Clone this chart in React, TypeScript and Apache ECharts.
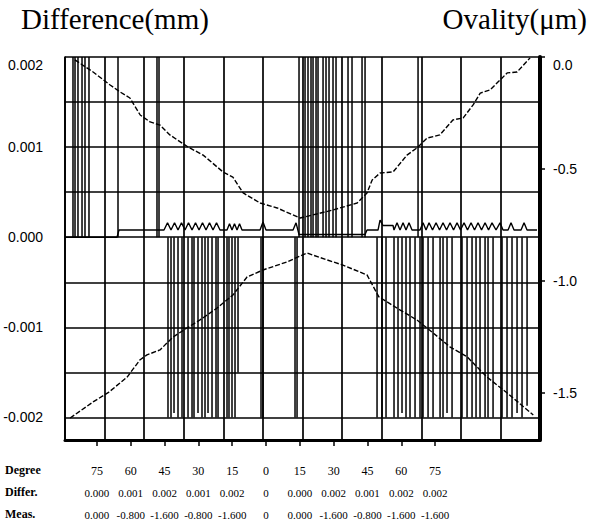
import React, { useEffect, useRef } from 'react';
import * as echarts from 'echarts';

// Table under the plot
const degreeLabels = ['75', '60', '45', '30', '15', '0', '15', '30', '45', '60', '75'];
const differLabels = ['0.000', '0.001', '0.002', '0.001', '0.002', '0', '0.000', '0.002', '0.001', '0.002', '0.002'];
const measLabels = ['0.000', '-0.800', '-1.600', '-0.800', '-1.600', '0', '0.000', '-1.600', '-0.800', '-1.600', '-1.600'];
const rowNames = ['Degree', 'Differ.', 'Meas.'];

// Ovality curves (right axis, µm); x in grid columns 0..12
const ovalityA = [
  [0.25, -0.013], [0.71, -0.067], [1.14, -0.125], [1.39, -0.156], [1.64, -0.183], [1.9, -0.259],
  [2.15, -0.29], [2.4, -0.304], [2.65, -0.348], [3.11, -0.402], [3.49, -0.438], [3.99, -0.513],
  [4.24, -0.536], [4.5, -0.607], [4.93, -0.652], [5.36, -0.674], [5.94, -0.719], [6.77, -0.683],
  [7.38, -0.652], [7.63, -0.607], [7.76, -0.549], [7.96, -0.518], [8.29, -0.513], [8.64, -0.438],
  [8.89, -0.406], [9.15, -0.362], [9.47, -0.348], [9.8, -0.281], [10.06, -0.272], [10.31, -0.214],
  [10.49, -0.161], [10.74, -0.147], [10.99, -0.103], [11.17, -0.071], [11.42, -0.067], [11.75, -0.004],
];
const ovalityB = [
  [0.13, -1.612], [0.71, -1.54], [1.11, -1.496], [1.57, -1.429], [1.89, -1.353], [2.07, -1.33],
  [2.4, -1.308], [2.73, -1.25], [3.08, -1.21], [3.41, -1.174], [3.84, -1.121], [4.24, -1.063],
  [4.6, -0.982], [5.0, -0.951], [5.61, -0.915], [6.11, -0.875], [6.62, -0.906], [7.02, -0.929],
  [7.63, -0.973], [7.93, -1.071], [8.46, -1.129], [8.89, -1.174], [9.3, -1.232], [9.73, -1.295],
  [10.16, -1.339], [10.66, -1.429], [11.17, -1.5], [11.83, -1.598],
];

// Difference trace (left axis, mm)
const diffTrace = [
  [0, 0], [1.314, 0], [1.364, 0.00008], [2.501, 0.00008],
  [2.59, 0.00016], [2.678, 0.00008], [2.767, 0.00016], [2.855, 0.00008], [2.943, 0.00016], [3.032, 0.00008],
  [3.12, 0.00016], [3.209, 0.00008], [3.297, 0.00016], [3.386, 0.00008], [3.474, 0.00016], [3.562, 0.00008],
  [3.651, 0.00016], [3.739, 0.00008], [3.828, 0.00016], [3.916, 0.00008],
  [4.093, 0.00008], [4.156, 0.00015], [4.219, 0.00008], [4.282, 0.00015], [4.346, 0.00008], [4.409, 0.00015], [4.472, 0.00008],
  [4.927, 0.00008], [5.002, 0.00017], [5.078, 0.00008],
  [5.761, 0.00008], [5.837, 0.00016], [5.912, 0.00003],
  [7.58, 0.00003], [7.63, 0.00008],
  [7.908, 0.00008], [7.959, 0.00019], [8.034, 0.00013], [8.287, 0.00013],
  [8.312, 0.00008], [8.388, 0.00016], [8.464, 0.00008], [8.54, 0.00016], [8.615, 0.00008], [8.691, 0.00016], [8.767, 0.00008],
  [8.969, 0.00008], [9.045, 0.00016], [9.121, 0.00008], [9.197, 0.00016], [9.285, 0.00008], [9.374, 0.00016],
  [9.462, 0.00008], [9.55, 0.00016], [9.639, 0.00008], [9.727, 0.00016], [9.816, 0.00008], [9.904, 0.00016],
  [9.992, 0.00008], [10.081, 0.00016], [10.169, 0.00008], [10.258, 0.00016], [10.346, 0.00008], [10.435, 0.00016],
  [10.523, 0.00008], [10.612, 0.00016], [10.7, 0.00008], [10.788, 0.00016], [10.889, 0.00008], [10.99, 0.00016],
  [11.066, 0.00008],
  [11.193, 0.00008], [11.268, 0.00016], [11.344, 0.00008],
  [11.521, 0.00008], [11.597, 0.00016], [11.673, 0.00008],
  [11.925, 0.00008],
];

// Difference spikes (left axis, mm)
const diffUpSpikes = [
  [0.202, 0.002], [0.253, 0.002], [0.328, 0.002], [0.43, 0.002], [0.505, 0.002], [0.606, 0.002],
  [1.339, 0.002], [2.324, 0.002], [2.375, 0.002],
  [5.912, 0.002], [6.064, 0.002], [6.139, 0.002], [6.215, 0.002], [6.266, 0.002], [6.342, 0.002],
  [6.392, 0.002], [6.519, 0.002], [6.594, 0.002], [6.67, 0.002], [6.771, 0.002], [6.847, 0.002],
  [7.15, 0.002], [7.251, 0.002], [7.504, 0.002], [7.58, 0.002], [8.919, 0.002],
];
const diffDownSpikes = [
  [2.602, -0.002], [2.678, -0.002], [2.754, -0.00195], [2.855, -0.002], [2.956, -0.002], [3.108, -0.002],
  [3.209, -0.002], [3.259, -0.002], [3.36, -0.00195], [3.461, -0.002], [3.537, -0.002], [3.613, -0.00195],
  [3.714, -0.002], [3.815, -0.002], [3.866, -0.002], [4.093, -0.002], [4.143, -0.002], [4.219, -0.002],
  [4.295, -0.002], [4.371, -0.0015], [4.952, -0.002], [5.002, -0.002], [5.811, -0.002], [5.862, -0.002],
  [7.883, -0.002], [8.009, -0.002], [8.11, -0.002], [8.312, -0.002], [8.413, -0.002], [8.514, -0.00195],
  [8.615, -0.002], [8.716, -0.002], [8.843, -0.002], [8.969, -0.002], [9.045, -0.002], [9.172, -0.002],
  [9.298, -0.002], [9.475, -0.002], [9.55, -0.002], [9.651, -0.00195], [9.778, -0.002], [10.03, -0.002],
  [10.157, -0.002], [10.283, -0.002], [10.384, -0.002], [10.485, -0.002], [10.612, -0.002], [10.687, -0.002],
  [10.814, -0.002], [11.041, -0.002], [11.167, -0.002], [11.293, -0.002], [11.42, -0.00195], [11.546, -0.002],
  [11.673, -0.00187],
];

const SANS = '"Liberation Sans", Arial, sans-serif';
const SERIF = '"Liberation Serif", "Times New Roman", serif';

export default function App() {
  const ref = useRef<HTMLDivElement>(null);

  useEffect(() => {
    if (!ref.current) return;
    const chart = echarts.init(ref.current, undefined, { renderer: 'svg' });

    const rowY = [471, 493, 515];
    const tableAxis = (data: string[], offset: number, showTick: boolean, size: number) => ({
      type: 'category',
      gridIndex: 1,
      position: 'bottom',
      offset,
      data,
      boundaryGap: true,
      axisLine: { show: false },
      axisTick: { show: showTick, alignWithLabel: true, length: 5, lineStyle: { color: '#000', width: 1.5 } },
      axisLabel: {
        interval: 0,
        margin: 30,
        verticalAlign: 'middle',
        color: '#000',
        fontFamily: SERIF,
        fontSize: size,
      },
      splitLine: { show: false },
    });

    chart.setOption({
      animation: false,
      backgroundColor: '#fff',
      title: [
        {
          text: 'Difference(mm)',
          left: 21,
          top: 4,
          padding: 0,
          textStyle: { fontFamily: SERIF, fontSize: 29, fontWeight: 'normal', color: '#000' },
        },
        {
          text: 'Ovality(μm)',
          right: 10,
          top: 4,
          padding: 0,
          textStyle: { fontFamily: SERIF, fontSize: 29, fontWeight: 'normal', color: '#000' },
        },
      ],
      graphic: rowNames.map((name, i) => ({
        type: 'text',
        left: 5,
        top: rowY[i] - 7,
        style: { text: name, font: `bold 12px ${SERIF}`, fill: '#000' },
      })),
      grid: [
        { left: 65, right: 57, top: 57, bottom: 87, show: false },
        { left: 80, width: 372, top: 436, height: 5, show: false },
      ],
      xAxis: [
        {
          type: 'value',
          gridIndex: 0,
          min: 0,
          max: 12,
          interval: 1,
          axisLine: { show: true, onZero: false, lineStyle: { color: '#000', width: 3 } },
          axisTick: { show: false },
          axisLabel: { show: false },
          splitLine: { show: true, lineStyle: { color: '#000', width: 1.7 } },
        },
        tableAxis(degreeLabels, 0, true, 12),
        tableAxis(differLabels, 22, false, 11),
        tableAxis(measLabels, 44, false, 11),
      ],
      yAxis: [
        {
          type: 'value',
          gridIndex: 0,
          position: 'left',
          min: -0.00225,
          max: 0.002,
          minInterval: 0.0005,
          maxInterval: 0.0005,
          axisLine: { show: true, lineStyle: { color: '#000', width: 1.7 } },
          axisTick: { show: false },
          splitLine: { show: true, lineStyle: { color: '#000', width: 1.7 } },
          axisLabel: {
            showMinLabel: false,
            margin: 22,
            color: '#000',
            fontFamily: SANS,
            fontSize: 14,
            formatter: (v: number) => {
              const k = Math.round(v * 10000);
              if (k % 10 !== 0) return '';
              const s = v.toFixed(3);
              return k === 20 ? `{t|${s}}` : s;
            },
            rich: { t: { padding: [16, 0, 0, 0], fontFamily: SANS, fontSize: 14, color: '#000' } },
          },
        },
        {
          type: 'value',
          gridIndex: 0,
          position: 'right',
          min: -1.71,
          max: 0,
          minInterval: 0.5,
          maxInterval: 0.5,
          axisLine: { show: true, lineStyle: { color: '#000', width: 4 } },
          axisTick: { show: true, length: 5, lineStyle: { color: '#000', width: 1.5 } },
          splitLine: { show: false },
          axisLabel: {
            showMinLabel: false,
            margin: 13,
            color: '#000',
            fontFamily: SANS,
            fontSize: 14,
            formatter: (v: number) => {
              const s = (Math.abs(v) < 1e-9 ? 0 : v).toFixed(1);
              return Math.abs(v) < 1e-9 ? `{t|${s}}` : s;
            },
            rich: { t: { padding: [16, 0, 0, 0], fontFamily: SANS, fontSize: 14, color: '#000' } },
          },
        },
        { type: 'value', gridIndex: 1, show: false },
      ],
      series: [
        {
          name: 'Difference spikes',
          type: 'bar',
          xAxisIndex: 0,
          yAxisIndex: 0,
          barWidth: 1.5,
          data: [...diffUpSpikes, ...diffDownSpikes],
          itemStyle: { color: '#000' },
          silent: true,
        },
        {
          name: 'Difference',
          type: 'line',
          xAxisIndex: 0,
          yAxisIndex: 0,
          data: diffTrace,
          showSymbol: false,
          lineStyle: { color: '#000', width: 1.4 },
          silent: true,
        },
        {
          name: 'Ovality A',
          type: 'line',
          xAxisIndex: 0,
          yAxisIndex: 1,
          data: ovalityA,
          showSymbol: false,
          lineStyle: { color: '#000', width: 1.4, type: [5, 2] },
          silent: true,
        },
        {
          name: 'Ovality B',
          type: 'line',
          xAxisIndex: 0,
          yAxisIndex: 1,
          data: ovalityB,
          showSymbol: false,
          lineStyle: { color: '#000', width: 1.4, type: [5, 2] },
          silent: true,
        },
      ],
    });

    return () => chart.dispose();
  }, []);

  return (
    <div
      ref={ref}
      style={{ position: 'fixed', left: 0, top: 0, width: 597, height: 527, background: '#fff' }}
    />
  );
}
